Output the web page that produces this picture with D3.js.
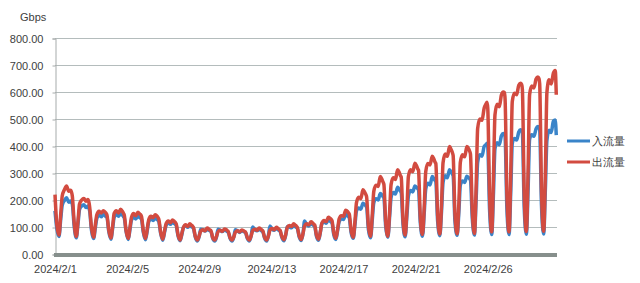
<!DOCTYPE html>
<html>
<head>
<meta charset="utf-8">
<script src="https://cdn.jsdelivr.net/npm/d3@7"></script>
<style>
  body { margin: 0; background: #fff; }
  svg { display: block; }
  text { font-family: Arial, "Liberation Sans", sans-serif; fill: #404040; }
</style>
</head>
<body>
<div id="chart"></div>
<script>
// sample hours within each day
const sampleHours = [0, 2.5, 5.5, 8, 10, 13, 16, 19, 21.5, 23];

// 出流量 (out), one row per day 2024/2/1 .. 2024/2/29
const outFlow = [
  [220, 110, 70, 150, 215, 238, 252, 232, 236, 228],
  [215, 120, 65, 125, 185, 200, 206, 195, 202, 192],
  [175, 100, 62, 110, 145, 158, 152, 160, 155, 150],
  [145, 90, 59, 105, 150, 160, 152, 166, 158, 150],
  [145, 88, 58, 100, 135, 150, 142, 155, 148, 145],
  [138, 85, 57, 95, 128, 140, 134, 145, 140, 134],
  [128, 80, 55, 88, 112, 122, 116, 126, 120, 116],
  [112, 72, 52, 78, 98, 108, 102, 112, 106, 102],
  [98, 66, 52, 68, 84, 90, 86, 96, 92, 88],
  [88, 62, 52, 66, 82, 88, 84, 93, 90, 86],
  [85, 62, 52, 64, 80, 86, 82, 89, 86, 83],
  [82, 62, 52, 68, 86, 92, 88, 96, 92, 88],
  [86, 63, 52, 68, 88, 94, 90, 99, 94, 90],
  [88, 65, 53, 74, 98, 106, 102, 112, 106, 102],
  [98, 68, 54, 78, 104, 112, 108, 119, 114, 110],
  [108, 70, 55, 84, 114, 124, 120, 136, 132, 128],
  [124, 78, 58, 95, 130, 142, 140, 162, 158, 152],
  [148, 88, 62, 125, 190, 210, 205, 238, 228, 220],
  [212, 105, 65, 150, 232, 255, 250, 287, 275, 265],
  [258, 118, 66, 160, 258, 282, 276, 312, 300, 290],
  [285, 128, 70, 170, 288, 312, 305, 336, 325, 315],
  [310, 135, 72, 180, 305, 335, 330, 362, 350, 340],
  [335, 145, 74, 190, 338, 370, 362, 398, 385, 375],
  [365, 150, 75, 190, 340, 368, 360, 398, 390, 380],
  [370, 165, 76, 260, 465, 500, 495, 540, 555, 562],
  [540, 220, 82, 300, 515, 555, 545, 590, 600, 598],
  [575, 225, 82, 310, 565, 595, 590, 625, 632, 628],
  [610, 230, 83, 320, 590, 622, 615, 648, 656, 650],
  [630, 235, 84, 320, 598, 645, 630, 670, 680, 590]
];

// 入流量 (in)
const inFlow = [
  [160, 95, 65, 130, 180, 198, 208, 192, 196, 190],
  [185, 105, 60, 115, 165, 178, 182, 172, 178, 170],
  [160, 90, 57, 98, 132, 145, 138, 146, 142, 138],
  [136, 84, 55, 96, 136, 146, 140, 150, 144, 138],
  [134, 84, 54, 92, 125, 136, 130, 140, 135, 132],
  [128, 80, 53, 88, 120, 130, 124, 133, 128, 124],
  [120, 76, 51, 82, 106, 116, 110, 118, 113, 110],
  [106, 68, 49, 74, 98, 106, 99, 106, 101, 98],
  [94, 63, 48, 66, 92, 90, 85, 91, 88, 86],
  [85, 60, 48, 64, 92, 88, 83, 89, 86, 83],
  [82, 60, 48, 64, 90, 86, 80, 86, 83, 81],
  [80, 59, 48, 68, 100, 90, 86, 91, 88, 85],
  [83, 60, 48, 70, 104, 92, 88, 94, 90, 87],
  [85, 62, 49, 72, 102, 100, 97, 106, 101, 98],
  [95, 64, 50, 78, 122, 108, 104, 113, 108, 105],
  [103, 66, 51, 82, 112, 118, 114, 126, 122, 118],
  [116, 72, 54, 90, 120, 130, 128, 146, 142, 138],
  [134, 80, 58, 112, 160, 170, 166, 188, 182, 178],
  [175, 92, 60, 130, 190, 205, 200, 224, 218, 212],
  [208, 102, 62, 140, 210, 228, 222, 247, 238, 232],
  [228, 110, 64, 146, 215, 235, 230, 252, 246, 242],
  [238, 115, 66, 155, 240, 262, 256, 287, 278, 272],
  [268, 122, 68, 162, 265, 290, 282, 312, 302, 296],
  [290, 122, 69, 158, 255, 270, 265, 288, 282, 278],
  [275, 135, 70, 210, 340, 368, 362, 398, 405, 410],
  [400, 165, 72, 230, 390, 412, 405, 438, 446, 444],
  [435, 170, 72, 240, 410, 428, 422, 452, 460, 456],
  [450, 175, 73, 245, 425, 442, 436, 464, 472, 468],
  [460, 180, 74, 250, 420, 458, 450, 492, 496, 440]
];

const yTicks = [0, 100, 200, 300, 400, 500, 600, 700, 800];
const xTickHours = [0, 100, 200, 300, 400, 500, 600];
const xTickLabels = ["2024/2/1", "2024/2/5", "2024/2/9", "2024/2/13", "2024/2/17", "2024/2/21", "2024/2/26"];
const seriesNames = ["入流量", "出流量"];
const seriesColors = ["#3a84c9", "#d24b40"];

const width = 640, height = 283;
const plot = { left: 55, right: 557, top: 38, bottom: 254 };

const svg = d3.select("#chart").append("svg")
  .attr("width", width)
  .attr("height", height);

const x = d3.scaleLinear()
  .domain([0, outFlow.length * 24])
  .range([plot.left, plot.right]);

const y = d3.scaleLinear()
  .domain([0, 800])
  .range([plot.bottom, plot.top]);

// gridlines
svg.append("g")
  .selectAll("line")
  .data(yTicks.filter(d => d > 0))
  .enter()
  .append("line")
  .attr("x1", plot.left)
  .attr("x2", plot.right)
  .attr("y1", d => y(d) + 0.5)
  .attr("y2", d => y(d) + 0.5)
  .attr("stroke", "#b4bcbc")
  .attr("stroke-width", 1);

// y axis
const yAxis = d3.axisLeft(y)
  .tickValues(yTicks)
  .tickSize(3)
  .tickPadding(9)
  .tickFormat(d3.format(".2f"));

const yg = svg.append("g")
  .attr("transform", `translate(${plot.left + 0.5}, 0.5)`)
  .call(yAxis);
yg.select(".domain").attr("stroke", "#a6abab");
yg.selectAll(".tick line").attr("stroke", "#a6abab");
yg.selectAll(".tick text").attr("font-size", 11).attr("fill", "#404040")
  .attr("font-family", "Arial, 'Liberation Sans', sans-serif");

// unit label
svg.append("text")
  .attr("x", 20)
  .attr("y", 21)
  .attr("font-size", 11)
  .text("Gbps");

// lines
function toPoints(rows) {
  const pts = [];
  rows.forEach((row, day) => {
    row.forEach((v, i) => pts.push({ h: day * 24 + sampleHours[i], v: v }));
  });
  return pts;
}

const line = d3.line()
  .curve(d3.curveMonotoneX)
  .x(d => x(d.h))
  .y(d => y(d.v));

[inFlow, outFlow].forEach((rows, i) => {
  svg.append("path")
    .attr("fill", "none")
    .attr("stroke", seriesColors[i])
    .attr("stroke-width", 3.5)
    .attr("stroke-linejoin", "round")
    .attr("d", line(toPoints(rows)));
});

// x axis: dense category ticks render as a thick grey band
svg.append("rect")
  .attr("x", plot.left - 1)
  .attr("y", plot.bottom - 1)
  .attr("width", plot.right - plot.left + 1)
  .attr("height", 4)
  .attr("fill", "#868f8c");

const xAxis = d3.axisBottom(x)
  .tickValues(xTickHours)
  .tickSize(0)
  .tickPadding(8)
  .tickFormat((d, i) => xTickLabels[i]);

const xg = svg.append("g")
  .attr("transform", `translate(0, ${plot.bottom + 3})`)
  .call(xAxis);
xg.select(".domain").remove();
xg.selectAll(".tick text").attr("font-size", 11).attr("fill", "#404040")
  .attr("font-family", "Arial, 'Liberation Sans', sans-serif");

// legend
const legend = svg.append("g")
  .attr("transform", "translate(567, 141)");

seriesNames.forEach((name, i) => {
  const g = legend.append("g").attr("transform", `translate(0, ${i * 21})`);
  g.append("line")
    .attr("x1", 0).attr("x2", 23)
    .attr("stroke", seriesColors[i])
    .attr("stroke-width", 3);
  g.append("text")
    .attr("x", 25)
    .attr("y", 4)
    .attr("font-size", 11)
    .attr("font-family", "'Noto Sans CJK SC', sans-serif")
    .text(name);
});
</script>
</body>
</html>
